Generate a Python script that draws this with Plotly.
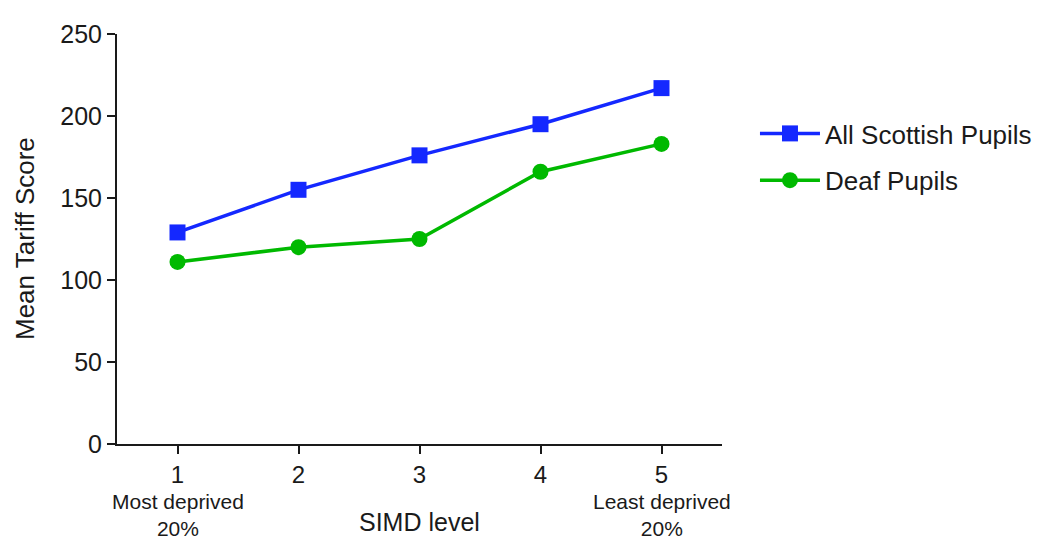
import plotly.graph_objects as go

simd_levels = [1, 2, 3, 4, 5]
all_scottish = [129, 155, 176, 195, 217]
deaf_pupils = [111, 120, 125, 166, 183]
y_ticks = [0, 50, 100, 150, 200, 250]

font_family = "Liberation Sans, Arial, sans-serif"
ink = "#1a1a1a"

fig = go.Figure()
fig.add_trace(go.Scatter(
    x=simd_levels, y=all_scottish, name="All Scottish Pupils",
    mode="lines+markers", legendgroup="a",
    line=dict(color="rgb(20,40,255)", width=3.5),
    marker=dict(symbol="square", size=16, color="rgb(20,40,255)"),
))
fig.add_trace(go.Scatter(
    x=simd_levels, y=deaf_pupils, name="Deaf Pupils",
    mode="lines+markers", legendgroup="b",
    line=dict(color="rgb(0,185,0)", width=3.5),
    marker=dict(symbol="circle", size=16, color="rgb(0,185,0)"),
))

fig.update_layout(
    width=1045, height=540,
    margin=dict(l=109, r=331, t=26, b=104, autoexpand=False),
    paper_bgcolor="white", plot_bgcolor="white",
    font=dict(family=font_family, size=24, color=ink),
    legend=dict(x=1.0545, y=0.70, xanchor="left", yanchor="middle",
                font=dict(size=26, color=ink), itemwidth=60,
                tracegroupgap=10, bgcolor="rgba(0,0,0,0)"),
    xaxis=dict(range=[0.5, 5.5], tickmode="array", tickvals=simd_levels,
               ticktext=[str(v) for v in simd_levels],
               showline=True, linecolor=ink, linewidth=2,
               ticks="outside", ticklen=8, tickwidth=2, tickcolor=ink,
               showgrid=False, zeroline=False, automargin=False,
               tickfont=dict(size=24)),
    yaxis=dict(range=[0, 250], tickmode="array", tickvals=y_ticks,
               showline=True, linecolor=ink, linewidth=2,
               ticks="outside", ticklen=8, tickwidth=2, tickcolor=ink,
               showgrid=False, zeroline=False, automargin=False,
               tickfont=dict(size=25)),
)

fig.add_annotation(x=0, y=0.5, xref="paper", yref="paper", xshift=-92,
                   text="Mean Tariff Score", showarrow=False, textangle=-90,
                   font=dict(size=26, color=ink), xanchor="center", yanchor="middle")
fig.add_annotation(x=1, y=0, xref="x", yref="paper", yshift=-71,
                   text="Most deprived<br>20%", showarrow=False,
                   font=dict(size=21, color=ink), align="center",
                   yanchor="middle")
fig.add_annotation(x=5, y=0, xref="x", yref="paper", yshift=-71,
                   text="Least deprived<br>20%", showarrow=False,
                   font=dict(size=21, color=ink), align="center",
                   yanchor="middle")
fig.add_annotation(x=3, y=0, xref="x", yref="paper", yshift=-78,
                   text="SIMD level", showarrow=False,
                   font=dict(size=25, color=ink), yanchor="middle")

fig.write_html("out.html")
